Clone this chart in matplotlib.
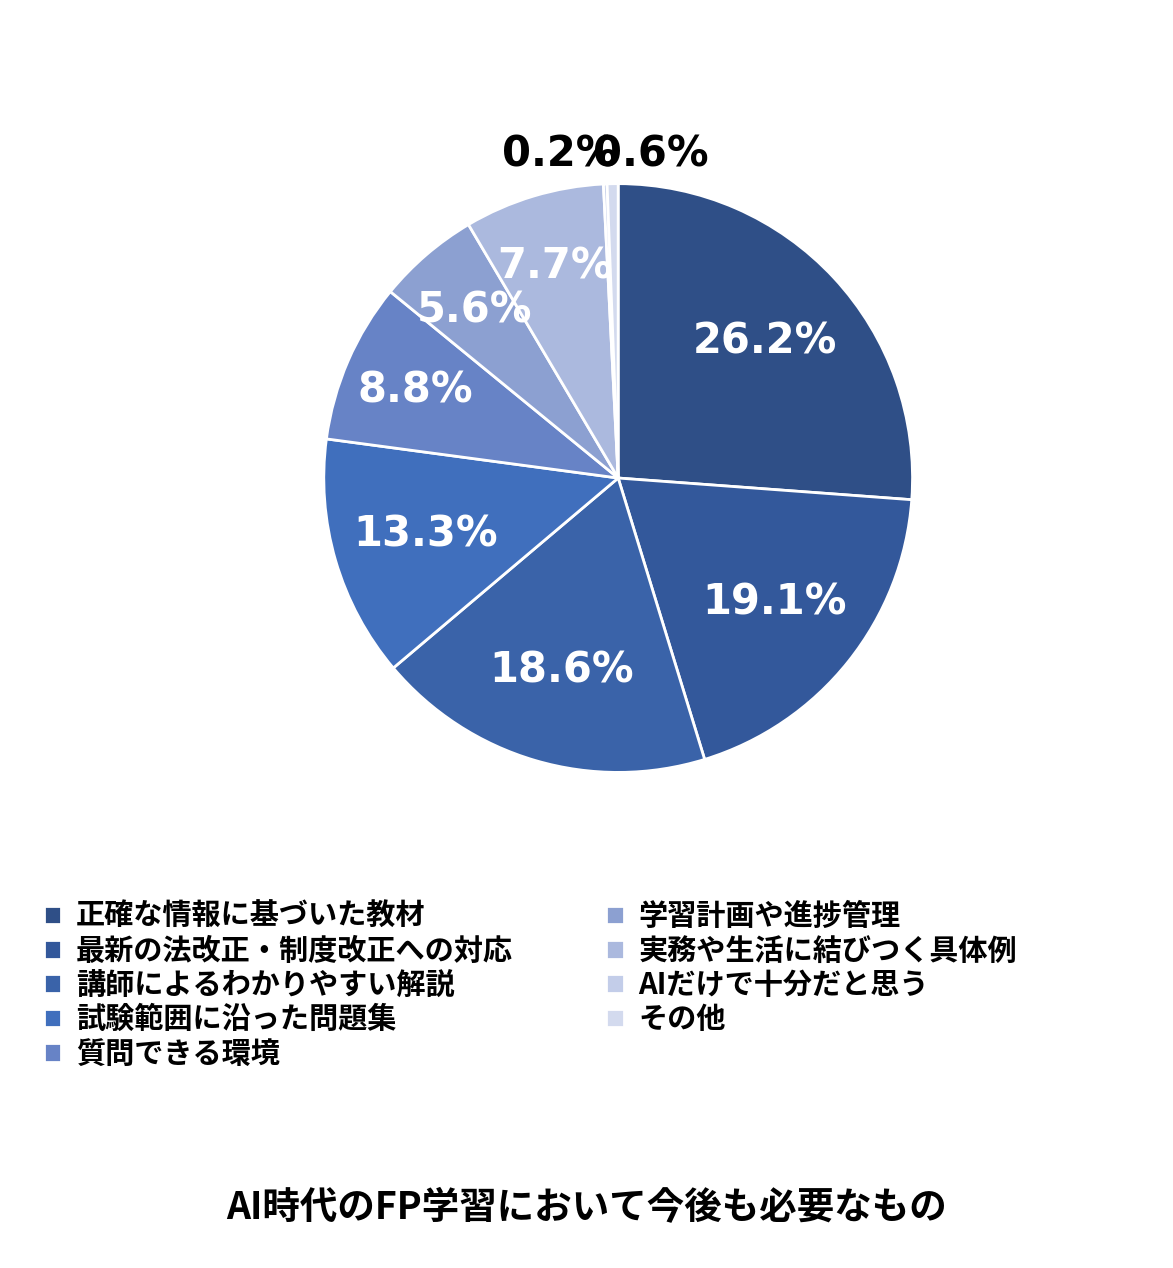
import matplotlib
matplotlib.use("Agg")
import matplotlib.pyplot as plt
import numpy as np

plt.rcParams['font.family'] = ['Noto Sans CJK JP', 'DejaVu Sans']

categories = ["正確な情報に基づいた教材", "最新の法改正・制度改正への対応", "講師によるわかりやすい解説",
              "試験範囲に沿った問題集", "質問できる環境", "学習計画や進捗管理",
              "実務や生活に結びつく具体例", "AIだけで十分だと思う", "その他"]
values = [26.2, 19.1, 18.6, 13.3, 8.8, 5.6, 7.7, 0.2, 0.6]
colors = ["#2f4f87", "#33589b", "#3a63a9", "#406fbd", "#6783c6", "#8ca0d1", "#abb9de", "#c3cde9", "#d3daee"]
title = "AI時代のFP学習において今後も必要なもの"

fig = plt.figure(figsize=(11.73, 12.68), dpi=100)
ax = fig.add_axes([0.527 - 0.3137, 0.623 - 0.2902, 0.6274, 0.5804])
wedges, _ = ax.pie(values, colors=colors, startangle=90, counterclock=False,
                   wedgeprops=dict(edgecolor="white", linewidth=2))
ax.set_aspect('equal')

for i, (w, v) in enumerate(zip(wedges, values)):
    ang = np.deg2rad((w.theta1 + w.theta2) / 2)
    if v < 2:
        r = 1.1
        dx = -0.15 if i == 7 else 0.13
        ax.text(np.cos(ang) * r + dx, np.sin(ang) * r, f"{v}%", ha='center', va='center',
                fontsize=30, fontweight='bold', color='black', family='DejaVu Sans')
    else:
        r = 0.68 if v > 10 else 0.75
        ax.text(np.cos(ang) * r, np.sin(ang) * r, f"{v}%", ha='center', va='center',
                fontsize=30, fontweight='bold', color='white', family='DejaVu Sans')

fig.legend(wedges, categories, loc='upper left', bbox_to_anchor=(0.015, 0.31), ncol=2,
           frameon=False, handlelength=0.6, handleheight=0.6,
           handletextpad=0.5, columnspacing=3.2, labelspacing=0.15,
           prop={'weight': 'bold', 'size': 21, 'family': ['Noto Sans CJK JP', 'DejaVu Sans']})
fig.text(0.5, 0.048, title, ha='center', va='center', fontsize=27, fontweight='bold')
fig.savefig("out.png", dpi=100, facecolor='white')
